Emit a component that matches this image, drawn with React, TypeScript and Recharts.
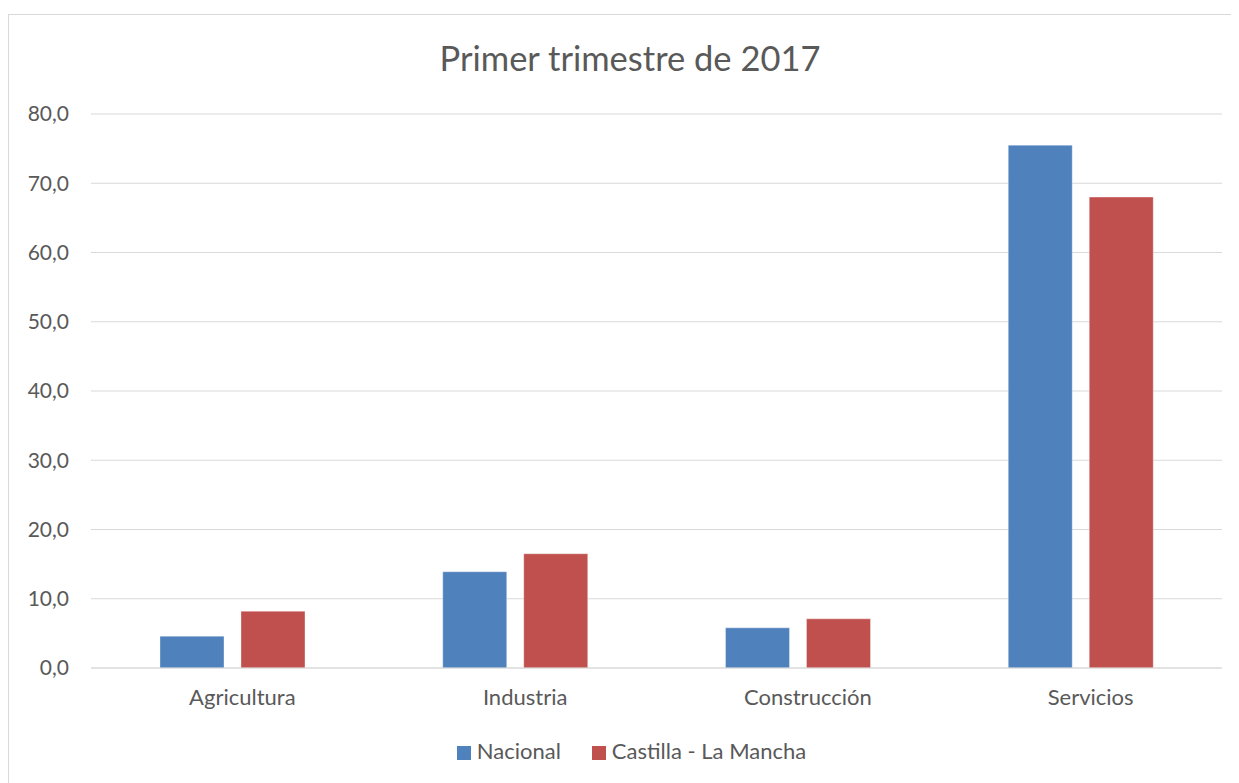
import { BarChart, Bar, XAxis, YAxis, CartesianGrid, Legend } from "recharts"

const categories = ["Agricultura", "Industria", "Construcción", "Servicios"]
const nacional = [4.6, 13.9, 5.8, 75.5]
const castillaLaMancha = [8.2, 16.5, 7.1, 68.0]
const yTicks = [0, 10, 20, 30, 40, 50, 60, 70, 80]

const data = categories.map((c, i) => ({
  name: c,
  nacional: nacional[i],
  clm: castillaLaMancha[i],
}))

const FONT = "Lato, 'Open Sans', sans-serif"
const TEXT = "#595959"
const GRID = "#d9d9d9"

const fmt = (v: number) => v.toFixed(1).replace(".", ",")

export default function App() {
  return (
    <div
      style={{
        position: "relative",
        top: 6,
        width: 1227,
        height: 775,
        border: `1px solid ${GRID}`,
        background: "#fff",
        fontFamily: FONT,
      }}
    >
      <div
        style={{
          position: "absolute",
          top: 23,
          left: 15,
          width: 1212,
          textAlign: "center",
          fontSize: 34.5,
          color: TEXT,
          lineHeight: "40px",
        }}
      >
        Primer trimestre de 2017
      </div>
      <BarChart
        width={1227}
        height={775}
        data={data}
        margin={{ top: 99, right: 14, left: 0, bottom: 0 }}
        barCategoryGap="24.4%"
        barGap={17}
      >
        <CartesianGrid stroke={GRID} vertical={false} />
        <XAxis
          dataKey="name"
          height={60}
          tickSize={0}
          tickMargin={21}
          stroke={GRID}
          tick={{ fontSize: 22, fill: TEXT, fontFamily: FONT, dx: 10 }}
        />
        <YAxis
          width={82}
          domain={[0, 80]}
          ticks={yTicks}
          tickFormatter={fmt}
          axisLine={false}
          tickLine={false}
          tickSize={0}
          tickMargin={22}
          tick={{ fontSize: 21, fill: TEXT, fontFamily: FONT }}
        />
        <Legend
          verticalAlign="bottom"
          height={62}
          iconType="square"
          iconSize={14}
          itemSorter={null}
          wrapperStyle={{ fontSize: 22, fontFamily: FONT, transform: "translate(21px, 9px)" }}
          formatter={(value, _entry, index) => (
            <span style={{ color: TEXT, marginLeft: 2, marginRight: index === 0 ? 21 : 0 }}>{value}</span>
          )}
        />
        <Bar dataKey="nacional" name="Nacional" fill="#4f81bd" stroke="#ffffff" strokeOpacity={0.35} isAnimationActive={false} />
        <Bar dataKey="clm" name="Castilla - La Mancha" fill="#c0504d" stroke="#ffffff" strokeOpacity={0.35} isAnimationActive={false} />
      </BarChart>
    </div>
  )
}
